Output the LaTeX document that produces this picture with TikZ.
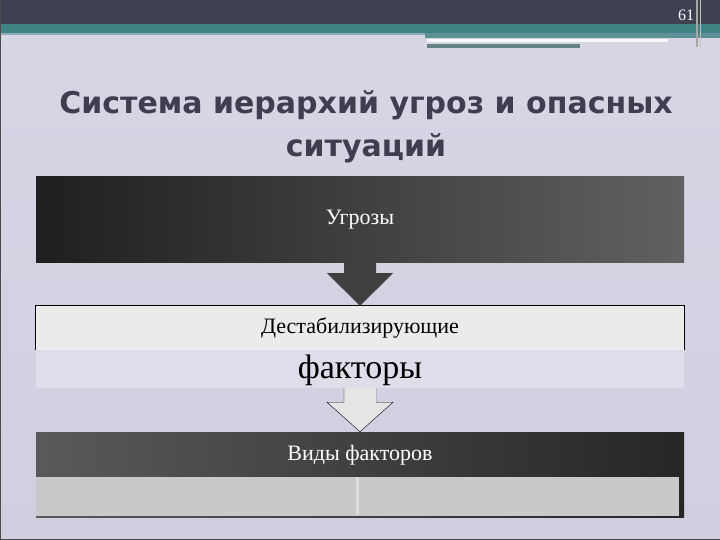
\documentclass[tikz,border=0pt]{standalone}
\usepackage{fontspec}
\setmainfont{Liberation Serif}
\newfontfamily\titlefont{DejaVu Sans}
\usetikzlibrary{calc}
\definecolor{slate}{HTML}{3D4152}
\definecolor{tealband}{HTML}{3F8384}
\definecolor{paper}{HTML}{D0CFE0}
\definecolor{titlegray}{HTML}{3E3E4E}
\begin{document}
\begin{tikzpicture}[x=1pt, y=-1pt,
  darkbox/.style={minimum width=648pt, inner sep=0pt, text=white, font=\fontsize{22}{22}\selectfont},
  lightbox/.style={minimum width=648pt, inner sep=0pt, font=\fontsize{22}{22}\selectfont}]
\useasboundingbox (0,0) rectangle (720,540);
% slide background and header
\shade[top color=paper!85!white, bottom color=paper] (0,0) rectangle (720,540);
\fill[slate] (0,0) rectangle (720,24);
\fill[tealband] (0,24) rectangle (720,33);
\fill[tealband!45!paper] (0,33) rectangle (425,35);
\fill[tealband!80!paper] (425,33) rectangle (720,38);
\fill[white!85!paper] (427,39) rectangle (668,42);
\fill[tealband!45!gray] (427,44) rectangle (580,48);
\fill[gray!70] (696,0) rectangle (698,47);
\fill[gray!50] (700,0) rectangle (701,47);
\draw[gray!60!black, line width=1pt] (0.5,0) -- (0.5,539.5) -- (720,539.5);
\node[text=white, font=\fontsize{16}{16}\selectfont] (pg) at (686,15) {61};
% title
\node[text=titlegray, align=center, font=\titlefont\bfseries\fontsize{30}{43}\selectfont] (title) at (366,127) {Система иерархий угроз и опасных\\ситуаций};
% boxes
\node[darkbox, minimum height=85pt, left color=black!88, right color=black!62] (b1) at (360,219.5) {Угрозы};
\node[lightbox, minimum height=44pt, fill=black!8] (b2) at (360,328) {Дестабилизирующие};
\node[minimum width=648pt, minimum height=38pt, inner sep=0pt, fill=paper!70!white] (b2x) at (360,369) {};
\node[font=\fontsize{34}{34}\selectfont] (fact) at (360,370) {факторы};
\draw[black, line width=1pt] (b2.south west) |- (b2.north east) -- (b2.south east);
\node[darkbox, minimum height=85pt, left color=black!65, right color=black!85] (b3) at (360,474.5) {};
\node[minimum width=643pt, minimum height=39pt, inner sep=0pt, anchor=north west, fill=black!21] (b3x) at (b3.west |- 0,477) {};
\fill[black!13] (356,477) rectangle (358.5,515);
\node[text=white, font=\fontsize{22}{22}\selectfont] (vid) at (360,455) {Виды факторов};
% arrows between boxes
\fill[black!75] ($(b1.south)+(-16,0)$) -- ($(b1.south)+(-16,11)$) -- ($(b1.south)+(-33,11)$)
  -- (b2.north) -- ($(b1.south)+(33,11)$) -- ($(b1.south)+(16,11)$) -- ($(b1.south)+(16,0)$) -- cycle;
\draw[black, fill=black!10, line join=miter] ($(b2x.south)+(-16,0)$) -- ($(b2x.south)+(-16,14)$) -- ($(b2x.south)+(-33,14)$)
  -- (b3.north) -- ($(b2x.south)+(33,14)$) -- ($(b2x.south)+(16,14)$) -- ($(b2x.south)+(16,0)$);
\fill[black!10] ($(b2x.south)+(-15.5,-0.5)$) rectangle ($(b2x.south)+(15.5,14)$);
\end{tikzpicture}
\end{document}
